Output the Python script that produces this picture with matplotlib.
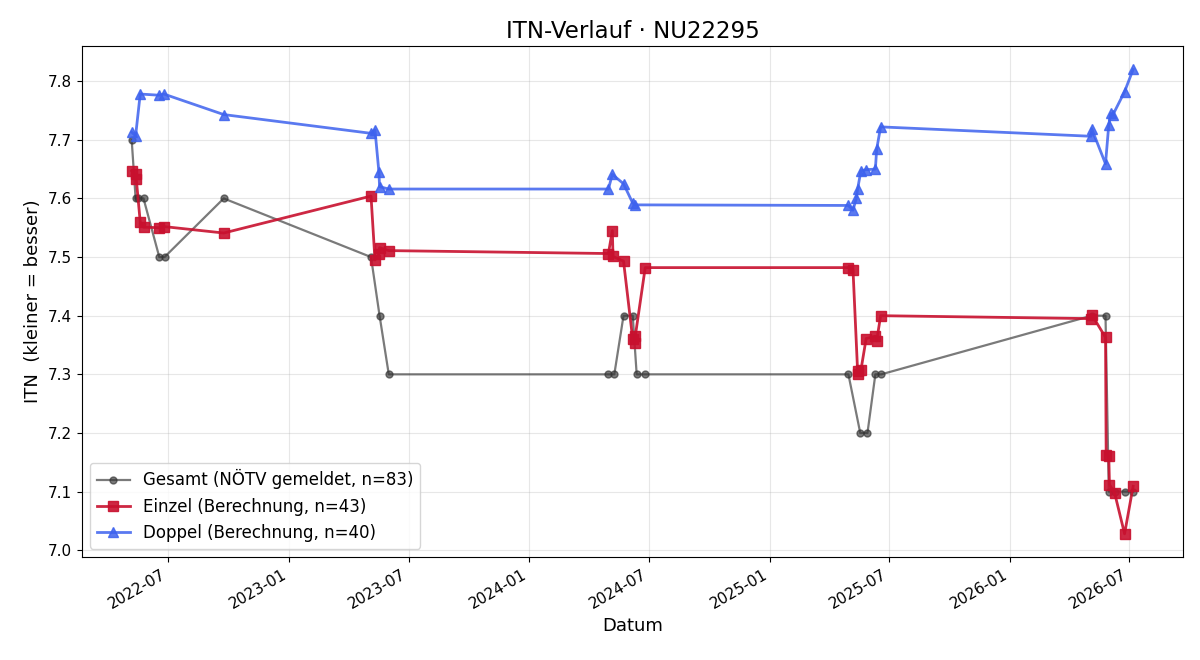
import matplotlib
matplotlib.use("Agg")
import matplotlib.pyplot as plt
import matplotlib.dates as mdates
import pandas as pd

# Gesamt (NÖTV gemeldet)
ges_dates = ["2022-05-06", "2022-05-12", "2022-05-15", "2022-05-24", "2022-06-17", "2022-06-25",
             "2022-09-23", "2023-05-05", "2023-05-18", "2023-06-01", "2024-04-30", "2024-05-09",
             "2024-05-23", "2024-06-06", "2024-06-12", "2024-06-25", "2025-04-30", "2025-05-18",
             "2025-05-29", "2025-06-10", "2025-06-19", "2026-05-05", "2026-05-26", "2026-05-31",
             "2026-06-09", "2026-06-24", "2026-07-07"]
ges_vals = [7.7, 7.6, 7.6, 7.6, 7.5, 7.5,
            7.6, 7.5, 7.4, 7.3, 7.3, 7.3,
            7.4, 7.4, 7.3, 7.3, 7.3, 7.2,
            7.2, 7.3, 7.3, 7.4, 7.4, 7.1,
            7.1, 7.1, 7.1]

# Einzel (Berechnung)
ein_dates = ["2022-05-06", "2022-05-12", "2022-05-13", "2022-05-19", "2022-05-24", "2022-06-17",
             "2022-06-24", "2022-09-23", "2023-05-05", "2023-05-11", "2023-05-17", "2023-05-18",
             "2023-06-01", "2024-04-30", "2024-05-06", "2024-05-07", "2024-05-23", "2024-06-06",
             "2024-06-09", "2024-06-10", "2024-06-25", "2025-04-30", "2025-05-07", "2025-05-14",
             "2025-05-15", "2025-05-19", "2025-05-27", "2025-06-10", "2025-06-12", "2025-06-18",
             "2026-05-04", "2026-05-05", "2026-05-26", "2026-05-27", "2026-05-31", "2026-06-01",
             "2026-06-09", "2026-06-24", "2026-07-07"]
ein_vals = [7.647, 7.641, 7.633, 7.560, 7.551, 7.550,
            7.552, 7.541, 7.604, 7.495, 7.505, 7.516,
            7.511, 7.506, 7.545, 7.501, 7.493, 7.360,
            7.353, 7.366, 7.482, 7.482, 7.478, 7.305,
            7.300, 7.307, 7.361, 7.365, 7.357, 7.400,
            7.395, 7.402, 7.363, 7.163, 7.160, 7.112,
            7.097, 7.028, 7.109]

# Doppel (Berechnung)
dop_dates = ["2022-05-06", "2022-05-12", "2022-05-19", "2022-06-17", "2022-06-24", "2022-09-23",
             "2023-05-05", "2023-05-11", "2023-05-17", "2023-05-18", "2023-06-01", "2024-04-30",
             "2024-05-06", "2024-05-23", "2024-06-06", "2024-06-10", "2025-04-30", "2025-05-07",
             "2025-05-12", "2025-05-14", "2025-05-19", "2025-05-27", "2025-06-10", "2025-06-12",
             "2025-06-18", "2026-05-04", "2026-05-05", "2026-05-26", "2026-05-31", "2026-06-03",
             "2026-06-06", "2026-06-24", "2026-07-07"]
dop_vals = [7.713, 7.707, 7.778, 7.776, 7.778, 7.743,
            7.711, 7.717, 7.645, 7.620, 7.616, 7.616,
            7.641, 7.625, 7.592, 7.589, 7.588, 7.580,
            7.600, 7.616, 7.647, 7.649, 7.650, 7.684,
            7.722, 7.706, 7.719, 7.659, 7.726, 7.745,
            7.742, 7.782, 7.820]

fig, ax = plt.subplots(figsize=(12, 6.6), dpi=100)

ax.plot(pd.to_datetime(ges_dates), ges_vals, marker="o", ms=5, lw=1.6,
        color="#333333", alpha=0.65, label="Gesamt (NÖTV gemeldet, n=83)")
ax.plot(pd.to_datetime(ein_dates), ein_vals, marker="s", ms=7, lw=2,
        color="#c8102e", alpha=0.9, label="Einzel (Berechnung, n=43)")
ax.plot(pd.to_datetime(dop_dates), dop_vals, marker="^", ms=7, lw=2,
        color="#3d62ee", alpha=0.85, label="Doppel (Berechnung, n=40)")

ax.set_title("ITN-Verlauf · NU22295", fontsize=16.5)
ax.set_xlabel("Datum", fontsize=13)
ax.set_ylabel("ITN  (kleiner = besser)", fontsize=13)
ax.xaxis.set_major_locator(mdates.MonthLocator(bymonth=[1, 7]))
ax.xaxis.set_major_formatter(mdates.DateFormatter("%Y-%m"))
ax.tick_params(labelsize=11)
ax.grid(True, alpha=0.3)
ax.legend(loc="lower left", fontsize=12)
fig.autofmt_xdate()

plt.subplots_adjust(left=0.068, right=0.986, top=0.93, bottom=0.156)
plt.savefig("out.png")
